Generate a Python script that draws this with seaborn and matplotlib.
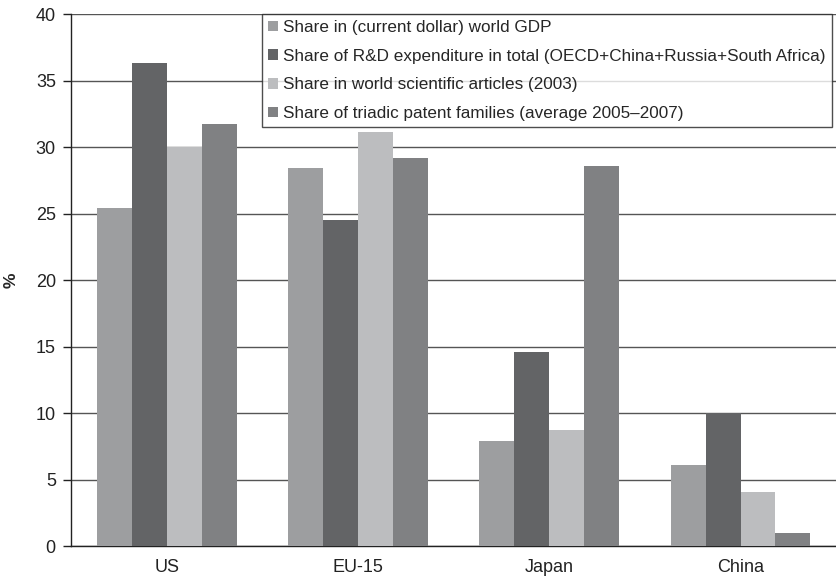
import numpy as np
import pandas as pd
import matplotlib
matplotlib.use("Agg")
import matplotlib.pyplot as plt
import seaborn as sns

sns.set_theme(style="white")
plt.rcParams["font.family"] = ["Liberation Sans", "DejaVu Sans"]

regions = ["US", "EU-15", "Japan", "China"]
series = [
    "Share in (current dollar) world GDP",
    "Share of R&D expenditure in total (OECD+China+Russia+South Africa)",
    "Share in world scientific articles (2003)",
    "Share of triadic patent families (average 2005\u20132007)",
]
gdp = [25.4, 28.4, 7.9, 6.1]
rnd = [36.3, 24.5, 14.6, 10.0]
articles = [30.0, 31.1, 8.7, 4.1]
patents = [31.7, 29.2, 28.6, 1.0]
colors = ["#9d9ea0", "#636466", "#bcbdbf", "#808183"]

df = pd.DataFrame({"region": regions * 4,
                   "series": np.repeat(series, 4),
                   "value": gdp + rnd + articles + patents})

fig = plt.figure(figsize=(8.37, 5.86), dpi=100)
ax = fig.add_axes([0.085, 0.068, 0.914, 0.908])

sns.barplot(data=df, x="region", y="value", hue="series", palette=colors,
            width=0.73, saturation=1, linewidth=0, ax=ax, zorder=3)

ax.set_ylim(0, 40)
ax.set_xlim(-0.5, 3.5)
ax.set_yticks(range(0, 41, 5))
ax.yaxis.grid(True, color="#555555", linewidth=1, zorder=0)
ax.set_axisbelow(True)
ax.set_xlabel("")
ax.set_ylabel("%", fontsize=12.5, fontweight="bold", labelpad=12)

ax.set_xticks(range(4))
ax.set_xticks([-0.5, 0.5, 1.5, 2.5, 3.5], minor=True)
ax.tick_params(axis="x", which="major", length=0, labelsize=13, pad=9, colors="#222222")
ax.tick_params(axis="x", which="minor", length=5, width=1, direction="out", color="#222222")
ax.tick_params(axis="y", length=6, width=1, direction="out", labelsize=13, left=True,
               pad=5, colors="#222222")

for s in ["top", "right"]:
    ax.spines[s].set_visible(False)
for s in ["left", "bottom"]:
    ax.spines[s].set_color("#222222")
    ax.spines[s].set_linewidth(1)

leg = ax.legend(loc="upper right", bbox_to_anchor=(0.994, 1.0), fontsize=12.3,
                frameon=True, fancybox=False, edgecolor="#222222",
                handlelength=0.6, handleheight=0.6, handletextpad=0.3,
                labelspacing=0.8, borderpad=0.35, borderaxespad=0)
leg.get_frame().set_linewidth(1)

fig.savefig("out.png", dpi=100)
